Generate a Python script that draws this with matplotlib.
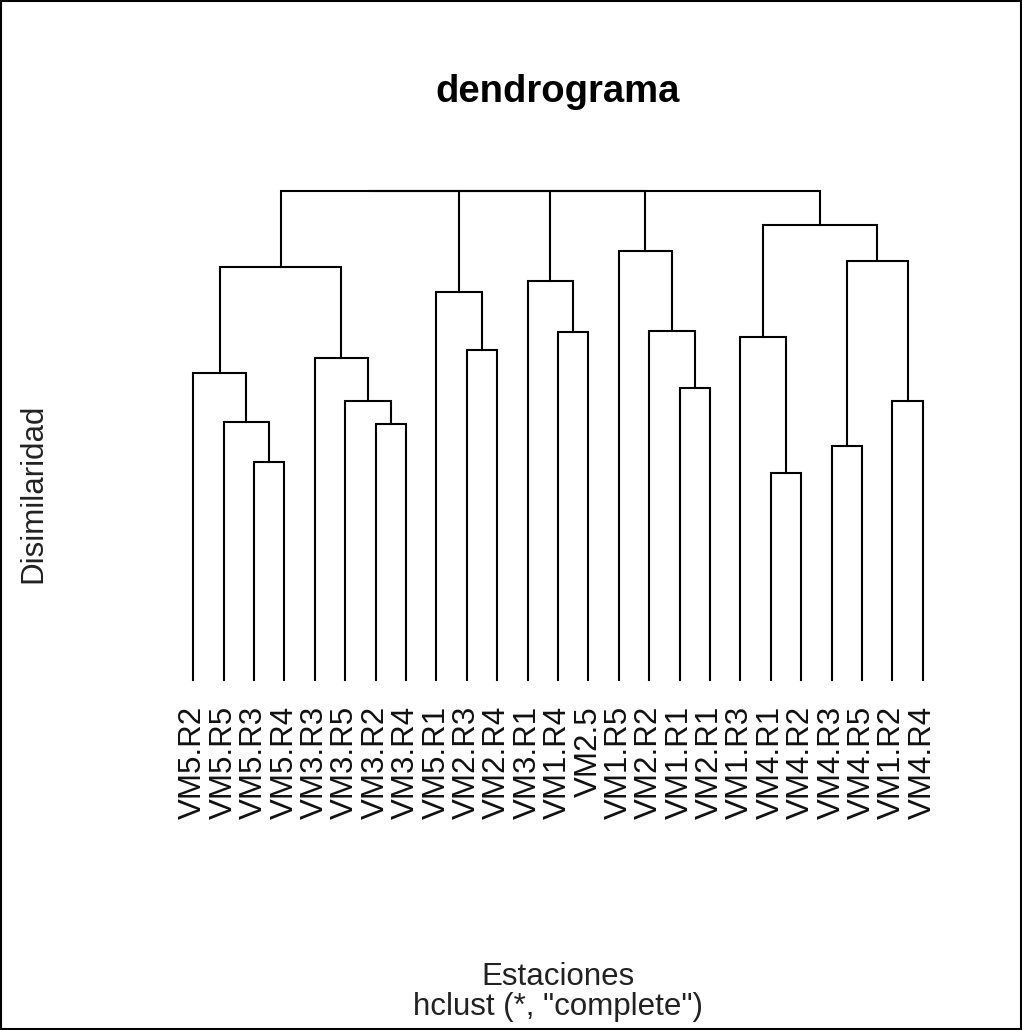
import matplotlib
matplotlib.use("Agg")
import matplotlib.pyplot as plt
from matplotlib.patches import Rectangle
from matplotlib.transforms import blended_transform_factory

plt.rcParams['font.family'] = ['Liberation Sans', 'DejaVu Sans']

# Leaf labels in display order
labels = ["VM5.R2", "VM5.R5", "VM5.R3", "VM5.R4", "VM3.R3", "VM3.R5", "VM3.R2",
          "VM3.R4", "VM5.R1", "VM2.R3", "VM2.R4", "VM3.R1", "VM1.R4", "VM2.5",
          "VM1.R5", "VM2.R2", "VM1.R1", "VM2.R1", "VM1.R3", "VM4.R1", "VM4.R2",
          "VM4.R3", "VM4.R5", "VM1.R2", "VM4.R4"]

# Merge table (R hclust style): negative = leaf display position (1-based), positive = earlier merge
merge_left = [-3, -2, -1, -7, -6, -5, 3, -10, -9, -13, -12, -17, -16, -15,
              -20, -19, -22, -24, 17, 16, 7, 21, 22, 23]
merge_right = [-4, 1, 2, -8, 4, 5, 6, -11, 8, -14, 10, -18, 12, 13,
               -21, 15, -23, -25, 18, 19, 9, 11, 14, 20]
merge_height = [0.446, 0.528, 0.628, 0.524, 0.570, 0.659, 0.844, 0.675, 0.794,
                0.712, 0.815, 0.598, 0.713, 0.877, 0.423, 0.701, 0.479, 0.570,
                0.857, 0.930, 1.0, 1.0, 1.0, 1.0]

W, H = 1022, 1030
fig = plt.figure(figsize=(W / 100, H / 100), dpi=100)

x0_px, x1_px = 193.3, 922.7
y0_px, y1_px = 680.0, 191.0
ax = fig.add_axes([x0_px / W, 1 - y0_px / H, (x1_px - x0_px) / W, (y0_px - y1_px) / H])
ax.set_xlim(1, len(labels))
ax.set_ylim(0, 1.0)
ax.axis('off')

node_x = {}
node_y = {}

def child_pos(c):
    if c < 0:
        return float(-c), 0.0
    return node_x[c], node_y[c]

for i, (l, r, h) in enumerate(zip(merge_left, merge_right, merge_height), start=1):
    xl, yl = child_pos(l)
    xr, yr = child_pos(r)
    ax.plot([xl, xl, xr, xr], [yl, h, h, yr], color='black', lw=1.5,
            solid_joinstyle='miter', clip_on=False)
    node_x[i] = (xl + xr) / 2
    node_y[i] = h

trans = blended_transform_factory(ax.transData, fig.transFigure)
for i, lab in enumerate(labels, start=1):
    ax.text(i, 1 - 706 / H, lab, transform=trans, rotation=90, ha='center',
            va='top', fontsize=22.5, color='#111111')

cx = (x0_px + x1_px) / 2 / W
fig.text(cx, 1 - 102 / H, "dendrograma", ha='center', va='baseline',
         fontsize=27.5, fontweight='bold')
fig.text(cx, 1 - 985 / H, "Estaciones", ha='center', va='baseline',
         fontsize=22.5, color='#222222')
fig.text(cx, 1 - 1015 / H, 'hclust (*, "complete")', ha='center', va='baseline',
         fontsize=22.5, color='#222222')
fig.text(33 / W, 1 - 493 / H, "Disimilaridad", ha='center', va='center',
         rotation=90, fontsize=22.5, color='#222222')

fig.add_artist(Rectangle((0.001, 0.001), 0.998, 0.998, transform=fig.transFigure,
                         fill=False, edgecolor='black', lw=1.5))

fig.savefig("out.png", dpi=100, facecolor='white')
